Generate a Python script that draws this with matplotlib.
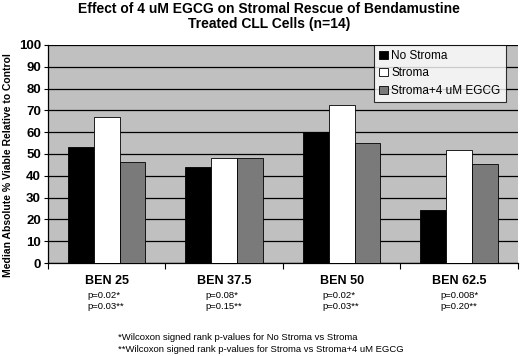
import numpy as np
import matplotlib.pyplot as plt

categories = ['BEN 25', 'BEN 37.5', 'BEN 50', 'BEN 62.5']
no_stroma = [53, 44, 60, 24.5]
stroma = [67, 48, 72.5, 52]
stroma_egcg = [46.5, 48, 55, 45.5]
p_first = ['p=0.02*', 'p=0.08*', 'p=0.02*', 'p=0.008*']
p_second = ['p=0.03**', 'p=0.15**', 'p=0.03**', 'p=0.20**']
footnotes = ['*Wilcoxon signed rank p-values for No Stroma vs Stroma',
             '**Wilcoxon signed rank p-values for Stroma vs Stroma+4 uM EGCG']

plt.rcParams['font.family'] = ['Liberation Sans', 'DejaVu Sans']

fig = plt.figure(figsize=(5.2, 3.56), dpi=100)
ax = fig.add_axes([0.092, 0.261, 0.904, 0.613])
ax.set_facecolor('#c0c0c0')

x = np.arange(len(categories))
w = 0.22
ax.bar(x - w, no_stroma, w, color='black', edgecolor='black', linewidth=0.6,
       label='No Stroma', zorder=3)
ax.bar(x, stroma, w, color='white', edgecolor='black', linewidth=0.6,
       label='Stroma', zorder=3)
ax.bar(x + w, stroma_egcg, w, color='#7a7a7a', edgecolor='black', linewidth=0.6,
       label='Stroma+4 uM EGCG', zorder=3)

ax.set_xlim(-0.5, len(categories) - 0.5)
ax.set_ylim(0, 100)
ax.set_yticks(range(0, 101, 10))
ax.yaxis.grid(True, color='black', linewidth=0.9, zorder=0)
ax.set_axisbelow(True)
for lbl in ax.get_yticklabels():
    lbl.set_fontweight('bold')
    lbl.set_fontsize(9.5)
ax.tick_params(axis='y', length=3, width=0.8, pad=2)

ax.set_xticks(np.arange(len(categories) + 1) - 0.5, minor=True)
ax.set_xticks([])
ax.tick_params(axis='x', which='minor', length=4, width=0.8, direction='out')
for s in ['top', 'right']:
    ax.spines[s].set_visible(False)
ax.spines['left'].set_linewidth(0.9)
ax.spines['bottom'].set_linewidth(0.9)

ax.set_ylabel('Median Absolute % Viable Relative to Control', fontsize=7.5,
              fontweight='bold')
ax.yaxis.set_label_coords(-0.074, 0.45)

xt = ax.get_xaxis_transform()
for i, c in enumerate(categories):
    ax.text(i, -0.055, c, transform=xt, ha='center', va='top',
            fontsize=9, fontweight='bold')
    ax.text(i - 0.16, -0.13, p_first[i], transform=xt, ha='left', va='top',
            fontsize=6.8)
    ax.text(i - 0.16, -0.18, p_second[i], transform=xt, ha='left', va='top',
            fontsize=6.8)

fig.text(118 / 520, 1 - 338 / 356, footnotes[0], fontsize=6.8, va='center')
fig.text(118 / 520, 1 - 350 / 356, footnotes[1], fontsize=6.8, va='center')

fig.text(0.517, 1 - 9 / 356, 'Effect of 4 uM EGCG on Stromal Rescue of Bendamustine',
         ha='center', va='center', fontsize=10, fontweight='bold')
fig.text(0.517, 1 - 24 / 356, 'Treated CLL Cells (n=14)',
         ha='center', va='center', fontsize=10, fontweight='bold')

leg = ax.legend(loc='upper right', bbox_to_anchor=(0.974, 1.0), fontsize=8.5,
                frameon=True, fancybox=False, edgecolor='black',
                handlelength=0.7, handleheight=0.7, handletextpad=0.3,
                borderpad=0.45, labelspacing=0.45, borderaxespad=0.0)
leg.get_frame().set_linewidth(0.8)

fig.savefig('out.png', dpi=100)
